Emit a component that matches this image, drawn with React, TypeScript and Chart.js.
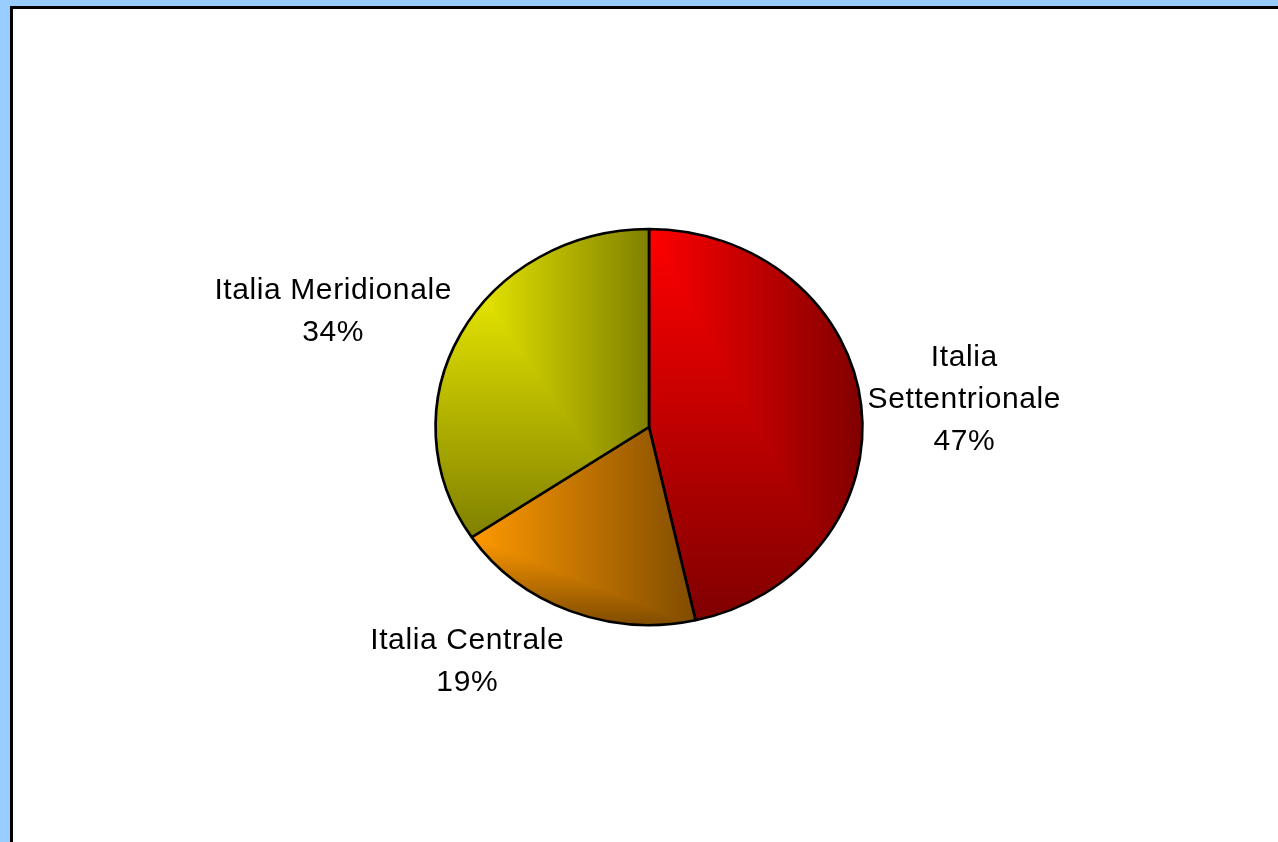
import React, { useEffect, useRef } from "react";
import { Chart, registerables } from "chart.js";

Chart.register(...registerables);

// ---- data ----
const categories: (string | string[])[] = [["Italia", "Settentrionale"], "Italia Centrale", "Italia Meridionale"];
const values = [46.5, 19.1, 34.4];
const brightColors = ["#FF0000", "#FF9900", "#FFFF00"];
const darkColors = ["#800000", "#804C00", "#808000"];

// ---- layout / style ----
const W = 1278;
const H = 842;
const RADIUS = 198;
const X_STRETCH = 1.078;
const FONT = "30px 'Liberation Sans', Arial, sans-serif";
const LINE_H = 42;
const BASELINE_IN_LINE = 31;
const LABEL_NUDGE = [
  [7, 0],
  [-66.5, 10],
  [-22.7, -4.4],
];

function hexToRgb(h: string) {
  const v = parseInt(h.slice(1), 16);
  return [(v >> 16) & 255, (v >> 8) & 255, v & 255];
}

function makeBoxPattern(
  ctx: CanvasRenderingContext2D,
  fillBox: { x0: number; y0: number; x1: number; y1: number },
  box: { x0: number; y0: number; x1: number; y1: number },
  c0: string,
  c1: string
) {
  const off = document.createElement("canvas");
  off.width = W;
  off.height = H;
  const octx = off.getContext("2d")!;
  const fx0 = Math.max(0, Math.floor(fillBox.x0) - 2);
  const fy0 = Math.max(0, Math.floor(fillBox.y0) - 2);
  const fx1 = Math.min(W - 1, Math.ceil(fillBox.x1) + 2);
  const fy1 = Math.min(H - 1, Math.ceil(fillBox.y1) + 2);
  const iw = fx1 - fx0 + 1;
  const ih = fy1 - fy0 + 1;
  const img = octx.createImageData(iw, ih);
  const a = hexToRgb(c0);
  const b = hexToRgb(c1);
  const bw = Math.max(1, box.x1 - box.x0);
  const bh = Math.max(1, box.y1 - box.y0);
  for (let py = 0; py < ih; py++) {
    for (let px = 0; px < iw; px++) {
      const x = fx0 + px + 0.5;
      const y = fy0 + py + 0.5;
      let t = Math.max((x - box.x0) / bw, (y - box.y0) / bh);
      t = Math.min(1, Math.max(0, t));
      const k = (py * iw + px) * 4;
      img.data[k] = Math.round(a[0] + (b[0] - a[0]) * t);
      img.data[k + 1] = Math.round(a[1] + (b[1] - a[1]) * t);
      img.data[k + 2] = Math.round(a[2] + (b[2] - a[2]) * t);
      img.data[k + 3] = 255;
    }
  }
  octx.putImageData(img, fx0, fy0);
  return ctx.createPattern(off, "no-repeat");
}

const excelPie = {
  id: "excelPie",
  beforeDatasetsDraw(chart: any) {
    const meta = chart.getDatasetMeta(0);
    const ctx: CanvasRenderingContext2D = chart.ctx;
    if (!chart.$patterns) chart.$patterns = [];
    meta.data.forEach((arc: any, i: number) => {
      const p = arc.getProps(["x", "y", "startAngle", "endAngle", "outerRadius"], true);
      if (!chart.$patterns[i]) {
        let x0 = Infinity, y0 = Infinity, x1 = -Infinity, y1 = -Infinity;
        const N = 360;
        for (let k = 0; k <= N; k++) {
          const ang = p.startAngle + ((p.endAngle - p.startAngle) * k) / N;
          const px = p.x + p.outerRadius * Math.cos(ang);
          const py = p.y + p.outerRadius * Math.sin(ang);
          x0 = Math.min(x0, px); x1 = Math.max(x1, px);
          y0 = Math.min(y0, py); y1 = Math.max(y1, py);
        }
        const fill = {
          x0: p.x - p.outerRadius,
          y0: p.y - p.outerRadius,
          x1: p.x + p.outerRadius,
          y1: p.y + p.outerRadius,
        };
        chart.$patterns[i] = makeBoxPattern(ctx, fill, { x0, y0, x1, y1 }, brightColors[i], darkColors[i]);
      }
      arc.options = Object.assign({}, arc.options, { backgroundColor: chart.$patterns[i] });
    });
    const cx = meta.data[0].x;
    const cy = meta.data[0].y;
    ctx.save();
    ctx.translate(cx, cy);
    ctx.scale(X_STRETCH, 1);
    ctx.translate(-cx, -cy);
  },
  afterDatasetsDraw(chart: any) {
    const ctx: CanvasRenderingContext2D = chart.ctx;
    ctx.restore();
    const meta = chart.getDatasetMeta(0);
    const total = values.reduce((s, v) => s + v, 0);
    ctx.save();
    ctx.font = FONT;
    (ctx as any).letterSpacing = "0.6px";
    ctx.fillStyle = "#000";
    ctx.textAlign = "center";
    ctx.textBaseline = "alphabetic";
    meta.data.forEach((arc: any, i: number) => {
      const p = arc.getProps(["x", "y", "startAngle", "endAngle", "outerRadius"], true);
      const mid = (p.startAngle + p.endAngle) / 2;
      const dx = Math.cos(mid);
      const dy = Math.sin(mid);
      const ex = p.x + dx * p.outerRadius * X_STRETCH;
      const ey = p.y + dy * p.outerRadius;
      const cat = categories[i];
      const lines = (Array.isArray(cat) ? cat.slice() : [cat]).concat([Math.round((values[i] / total) * 100) + "%"]);
      const w = Math.max(...lines.map((l) => ctx.measureText(l).width));
      const h = lines.length * LINE_H;
      const cx = ex + (dx * w) / 2 + LABEL_NUDGE[i][0];
      const cy = ey + (dy * h) / 2 + LABEL_NUDGE[i][1];
      lines.forEach((l, j) => {
        ctx.fillText(l, cx, cy - h / 2 + j * LINE_H + BASELINE_IN_LINE);
      });
    });
    ctx.restore();
  },
};

export default function App() {
  const ref = useRef<HTMLCanvasElement>(null);
  useEffect(() => {
    const chart = new Chart(ref.current!, {
      type: "pie",
      data: {
        labels: categories as any,
        datasets: [
          {
            data: values,
            backgroundColor: brightColors,
            borderColor: "#000000",
            borderWidth: 2.5,
            clip: false as any,
          },
        ],
      },
      options: {
        responsive: false,
        animation: false,
        events: [],
        radius: RADIUS,
        layout: { padding: { left: 420, right: 400, top: 220, bottom: 208 } },
        plugins: {
          legend: { display: false },
          tooltip: { enabled: false },
        },
      } as any,
      plugins: [excelPie],
    });
    return () => chart.destroy();
  }, []);
  return (
    <div style={{ position: "fixed", inset: 0, background: "#99CCFF", overflow: "hidden" }}>
      <div
        style={{
          position: "absolute",
          left: 10,
          top: 6,
          right: 0,
          bottom: 0,
          background: "#ffffff",
          borderLeft: "3px solid #000",
          borderTop: "3px solid #000",
        }}
      />
      <canvas ref={ref} width={W} height={H} style={{ position: "absolute", left: 0, top: 0, width: W, height: H }} />
    </div>
  );
}
